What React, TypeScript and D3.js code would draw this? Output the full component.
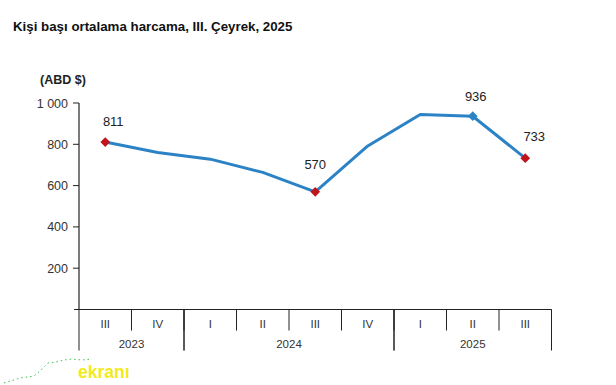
import * as d3 from "d3";

const quarters = ["III", "IV", "I", "II", "III", "IV", "I", "II", "III"];
const years = [
  { label: "2023", start: 0, end: 2 },
  { label: "2024", start: 2, end: 6 },
  { label: "2025", start: 6, end: 9 },
];
const spending = [811, 760, 728, 664, 570, 792, 944, 936, 733];
const yTicks = [200, 400, 600, 800, 1000];

// which points get a marker + label, and marker colour
const highlights = [
  { i: 0, color: "#c0141c", dx: 8, dy: -21 },
  { i: 4, color: "#c0141c", dx: 0, dy: -28 },
  { i: 7, color: "#2b83c6", dx: 3, dy: -20 },
  { i: 8, color: "#c0141c", dx: 9, dy: -22 },
];

const W = 616;
const H = 385;
const FONT = "'Liberation Sans', Arial, sans-serif";

export default function App() {
  const left = 79;
  const right = 551.5;
  const top = 103;
  const bottom = 309.5;

  const x = d3
    .scaleBand<number>()
    .domain(d3.range(quarters.length))
    .range([left, right])
    .padding(0);
  const cx = (i: number) => (x(i) || 0) + x.bandwidth() / 2;

  const y = d3.scaleLinear().domain([0, 1000]).range([bottom, top]);

  const line = d3
    .line<number>()
    .x((_, i) => cx(i))
    .y((d) => y(d));

  const fmt = (v: number) => (v >= 1000 ? d3.format(",")(v).replace(",", " ") : String(v));

  const diamond = d3.symbol(d3.symbolDiamond2, 60)() || "";

  return (
    <svg
      width={W}
      height={H}
      style={{ position: "absolute", left: 0, top: 0, background: "#fff" }}
      fontFamily={FONT}
    >
      <text x={13} y={31} fontSize={13.3} fontWeight="bold" fill="#111">
        Kişi başı ortalama harcama, III. Çeyrek, 2025
      </text>
      <text x={40} y={84} fontSize={12.5} fontWeight="bold" fill="#222">
        (ABD $)
      </text>

      {/* y axis */}
      <line x1={left} x2={left} y1={top} y2={bottom} stroke="#222" strokeWidth={1.2} />
      {yTicks.map((t) => (
        <g key={t}>
          <line x1={left - 6} x2={left} y1={y(t)} y2={y(t)} stroke="#222" />
          <text x={left - 11} y={y(t) + 4.5} fontSize={12.5} textAnchor="end" fill="#333">
            {fmt(t)}
          </text>
        </g>
      ))}

      {/* x axis */}
      <line x1={left - 5} x2={right} y1={bottom} y2={bottom} stroke="#222" strokeWidth={1.2} />
      {quarters.map((q, i) => (
        <g key={i}>
          <line
            x1={(x(i) || 0) + x.bandwidth()}
            x2={(x(i) || 0) + x.bandwidth()}
            y1={bottom}
            y2={bottom + 21}
            stroke="#222"
          />
          <text x={cx(i)} y={bottom + 18} fontSize={11.5} textAnchor="middle" fill="#333">
            {q}
          </text>
        </g>
      ))}
      {years.map((yr) => {
        const x0 = x(yr.start) || 0;
        const x1 = (x(yr.end - 1) || 0) + x.bandwidth();
        return (
          <g key={yr.label}>
            <line x1={x0} x2={x0} y1={bottom} y2={bottom + 41} stroke="#222" />
            <line x1={x1} x2={x1} y1={bottom} y2={bottom + 41} stroke="#222" />
            <text x={(x0 + x1) / 2} y={bottom + 38} fontSize={11.5} textAnchor="middle" fill="#333">
              {yr.label}
            </text>
          </g>
        );
      })}

      {/* series */}
      <path d={line(spending) || ""} fill="none" stroke="#2b83c6" strokeWidth={3} strokeLinejoin="round" />
      {highlights.map((h) => (
        <g key={h.i}>
          <path d={diamond} transform={`translate(${cx(h.i)},${y(spending[h.i])})`} fill={h.color} />
          <text
            x={cx(h.i) + h.dx}
            y={y(spending[h.i]) + h.dy + 5}
            fontSize={13}
            textAnchor="middle"
            fill="#222"
          >
            {spending[h.i]}
          </text>
        </g>
      ))}

      {/* watermark */}
      <polyline
        points="4,383 20,378 34,376 40,371 48,363 56,362 64,360 72,359 82,360 92,359"
        fill="none"
        stroke="#3fbf4f"
        strokeWidth={1}
        strokeDasharray="1.5 3"
      />
      <text x={78} y={378} fontSize={17.5} fontWeight="bold" fill="#f2ea1c">
        ekranı
      </text>
    </svg>
  );
}
